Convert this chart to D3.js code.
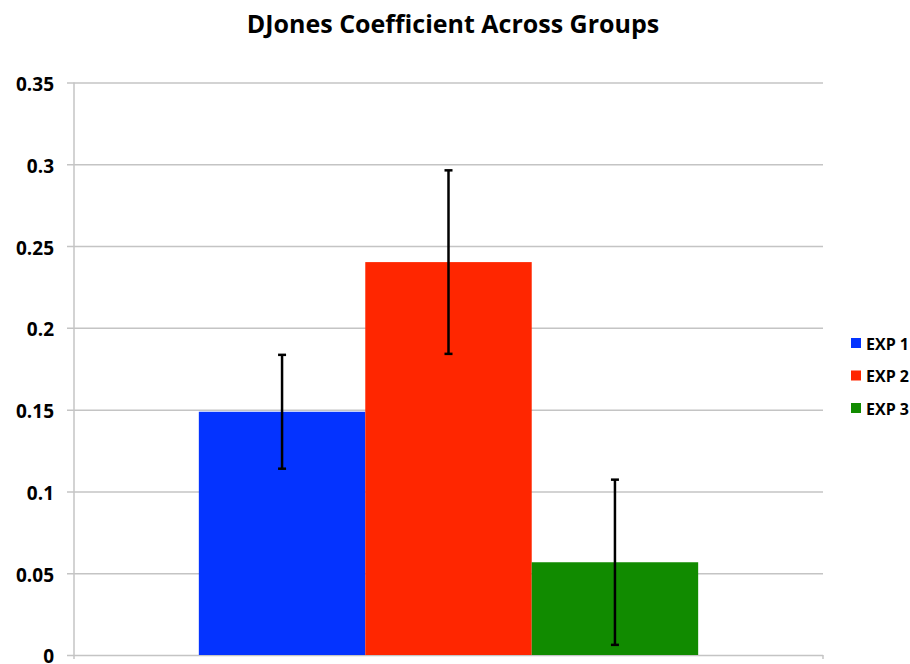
<!DOCTYPE html>
<html>
<head>
<meta charset="utf-8">
<script src="https://cdn.jsdelivr.net/npm/d3@7"></script>
<style>
  html, body { margin: 0; padding: 0; background: #fff; }
  svg { display: block; font-family: 'Open Sans', 'Liberation Sans', sans-serif; }
</style>
</head>
<body>
<div id="chart"></div>
<script>
// data
const groups = ['Groups'];
const seriesNames = ['EXP 1', 'EXP 2', 'EXP 3'];
const seriesValues = [0.1487, 0.2402, 0.0567];
const seriesErrors = [0.0348, 0.0561, 0.0505];
const seriesColors = ['#0433ff', '#ff2600', '#118b00'];
const yTicks = [0, 0.05, 0.1, 0.15, 0.2, 0.25, 0.3, 0.35];

// params
let width = 910;
let height = 664;
let margin = {top: 82.5, right: 87, bottom: 9, left: 74};
let plotW = width - margin.left - margin.right;
let plotH = height - margin.top - margin.bottom;

const svg = d3.select('#chart').append('svg')
  .attr('width', width)
  .attr('height', height);

// title
svg.append('text')
  .attr('x', 453)
  .attr('y', 33)
  .attr('text-anchor', 'middle')
  .style('font-size', '25px')
  .style('font-weight', 'bold')
  .attr('fill', '#000')
  .text('DJones Coefficient Across Groups');

const g = svg.append('g')
  .attr('transform', `translate(${margin.left}, ${margin.top})`);

// scales
const x0 = d3.scaleBand().domain(groups).range([0, plotW])
  .paddingInner(0).paddingOuter(0.25);
const x1 = d3.scaleBand().domain(seriesNames).range([0, x0.bandwidth()]);
const y = d3.scaleLinear().domain([0, 0.35]).range([plotH, 0]);

// gridlines + y labels
const yAxis = g.append('g')
  .call(d3.axisLeft(y)
    .tickValues(yTicks)
    .tickSize(-plotW)
    .tickPadding(20)
    .tickFormat(d => d3.format('')(+d.toFixed(2))));
yAxis.select('.domain').remove();
yAxis.selectAll('.tick line')
  .attr('x1', -7)
  .attr('stroke', '#c4c4c4')
  .attr('stroke-width', 1.5);
yAxis.selectAll('.tick text')
  .attr('fill', '#000')
  .attr('dy', '0.42em')
  .style('font-size', '19px')
  .style('font-weight', 'bold')
  .style('font-family', "'Open Sans', sans-serif");

// vertical axis line and bottom end ticks
g.append('line')
  .attr('x1', 0).attr('x2', 0)
  .attr('y1', 0).attr('y2', plotH + 4)
  .attr('stroke', '#c4c4c4')
  .attr('stroke-width', 1.5);
g.append('line')
  .attr('x1', plotW).attr('x2', plotW)
  .attr('y1', plotH).attr('y2', plotH + 4)
  .attr('stroke', '#c4c4c4')
  .attr('stroke-width', 1.5);

// bars
const rows = seriesNames.map((name, i) => ({
  group: groups[0], name: name, value: seriesValues[i],
  err: seriesErrors[i], color: seriesColors[i]
}));

const bars = g.append('g')
  .selectAll('g.bar')
  .data(rows)
  .enter()
  .append('g')
  .attr('class', 'bar')
  .attr('transform', d => `translate(${x0(d.group) + x1(d.name)}, 0)`);

bars.append('rect')
  .attr('x', 0)
  .attr('width', x1.bandwidth())
  .attr('y', d => y(d.value))
  .attr('height', d => y(0) - y(d.value))
  .attr('fill', d => d.color);

// error bars
let capW = 8;
const cx = x1.bandwidth() / 2;
bars.append('line')
  .attr('x1', cx).attr('x2', cx)
  .attr('y1', d => y(d.value + d.err))
  .attr('y2', d => y(d.value - d.err))
  .attr('stroke', '#000')
  .attr('stroke-width', 2.5);
bars.selectAll('line.cap')
  .data(d => [d.value + d.err, d.value - d.err])
  .enter()
  .append('line')
  .attr('class', 'cap')
  .attr('x1', cx - capW / 2).attr('x2', cx + capW / 2)
  .attr('y1', v => y(v)).attr('y2', v => y(v))
  .attr('stroke', '#000')
  .attr('stroke-width', 2.5);

// legend
const legend = svg.append('g')
  .attr('transform', 'translate(851, 338)')
  .selectAll('g')
  .data(rows)
  .enter()
  .append('g')
  .attr('transform', (d, i) => `translate(0, ${i * 32.5})`);
legend.append('rect')
  .attr('width', 10)
  .attr('height', 10)
  .attr('fill', d => d.color);
legend.append('text')
  .attr('x', 15)
  .attr('y', 11.5)
  .style('font-size', '16px')
  .style('font-weight', 'bold')
  .attr('fill', '#000')
  .text(d => d.name);
</script>
</body>
</html>
